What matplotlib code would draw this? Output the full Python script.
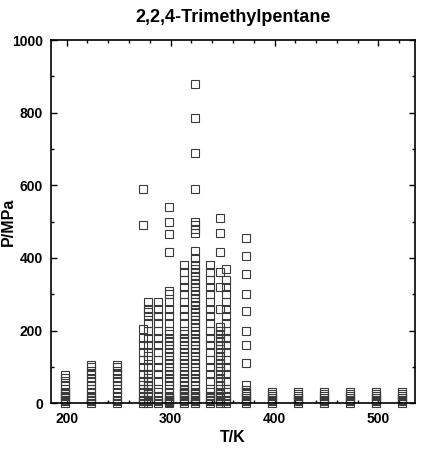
import matplotlib
matplotlib.use('Agg')
import matplotlib.pyplot as plt
from matplotlib.ticker import MultipleLocator

plt.rcParams['font.family'] = ['Liberation Sans', 'DejaVu Sans']
plt.rcParams['font.weight'] = 'bold'

# pressures (MPa) measured along each isotherm (K)
temps = [198, 223, 248, 273, 278, 288, 298, 313, 323, 338, 348, 353, 373,
         398, 423, 448, 473, 498, 523]

p_198 = [0.1, 5, 10, 15, 20, 25, 30, 40, 50, 60, 70, 77]
p_223 = [0.1, 5, 10, 15, 20, 30, 40, 50, 60, 70, 80, 90, 100, 106]
p_248 = [0.1, 5, 10, 20, 30, 40, 50, 60, 70, 80, 90, 100, 106]
p_273 = [0.1, 5, 10, 20, 30, 40, 50, 60, 80, 100, 120, 140, 160, 180, 205,
         490, 590]
p_278 = [0.1, 5, 10, 20, 25, 30, 40, 50, 60, 70, 80, 100, 120, 130, 140, 160,
         180, 200, 220, 240, 250, 260, 280]
p_288 = [0.1, 5, 10, 20, 30, 40, 60, 80, 100, 120, 140, 160, 180, 200, 220,
         240, 260, 280]
p_298 = [0.1, 2, 5, 8, 10, 15, 20, 30, 40, 50, 60, 70, 80, 90, 100, 110, 120,
         130, 140, 150, 160, 170, 180, 190, 200, 220, 240, 260, 280, 300, 310,
         415, 465, 500, 540]
p_313 = [0.1, 5, 10, 15, 20, 25, 30, 35, 40, 50, 60, 70, 80, 90, 100, 110,
         120, 130, 140, 150, 160, 170, 180, 190, 200, 220, 240, 260, 280, 300,
         320, 340, 360, 380]
p_323 = [0.1, 5, 10, 15, 20, 25, 30, 40, 50, 60, 70, 80, 90, 100, 110, 120,
         130, 140, 150, 160, 170, 180, 190, 200, 210, 220, 230, 240, 250, 260,
         270, 280, 290, 300, 310, 320, 330, 340, 350, 360, 370, 380, 400, 420,
         470, 480, 490, 500, 590, 690, 785, 880]
p_338 = [0.1, 5, 10, 15, 20, 30, 40, 60, 80, 100, 120, 140, 160, 180, 200,
         220, 240, 260, 280, 300, 320, 340, 360, 380]
p_348 = [0.1, 5, 10, 15, 20, 25, 30, 40, 50, 60, 70, 80, 90, 100, 110, 120,
         130, 140, 150, 160, 170, 180, 190, 200, 210, 260, 320, 360, 415, 470,
         510]
p_353 = [0.1, 5, 10, 20, 30, 40, 60, 80, 100, 120, 140, 160, 180, 200, 220,
         240, 260, 280, 300, 320, 340, 370]
p_373 = [0.1, 5, 10, 15, 20, 25, 30, 35, 50, 110, 160, 200, 255, 300, 355,
         405, 455]
p_high = [0.1, 5, 10, 15, 20, 25, 30]

columns = [p_198, p_223, p_248, p_273, p_278, p_288, p_298, p_313, p_323,
           p_338, p_348, p_353, p_373,
           p_high, p_high, p_high, p_high, p_high, p_high]

fig = plt.figure(figsize=(4.33, 4.5), dpi=100)
ax = fig.add_axes([0.118, 0.104, 0.84, 0.807])

for t, ps in zip(temps, columns):
    ax.plot([t] * len(ps), ps, 's', ms=5.5, mfc='none', mec='#3a3a3a',
            mew=0.8, clip_on=False)

ax.set_xlim(185, 535)
ax.set_ylim(0, 1000)
ax.xaxis.set_major_locator(MultipleLocator(100))
ax.xaxis.set_minor_locator(MultipleLocator(20))
ax.yaxis.set_major_locator(MultipleLocator(200))
ax.yaxis.set_minor_locator(MultipleLocator(100))
ax.tick_params(which='both', direction='in', top=True, right=True,
               labelsize=10, width=1)
ax.tick_params(which='major', length=4.3, pad=6)
ax.tick_params(which='minor', length=2.2)
for s in ax.spines.values():
    s.set_linewidth(1.2)

ax.set_title('2,2,4-Trimethylpentane', fontsize=13, fontweight='bold', pad=13)
ax.set_xlabel('T/K', fontsize=11.5, fontweight='bold', labelpad=3)
ax.set_ylabel('P/MPa', fontsize=11.5, fontweight='bold')
ax.yaxis.set_label_coords(-0.097, 0.5)

fig.savefig('out.png', dpi=100)
